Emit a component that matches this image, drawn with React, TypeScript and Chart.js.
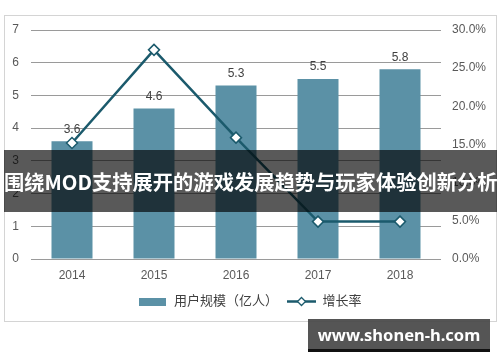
import React, { useEffect, useRef } from "react";
import { Chart, registerables } from "chart.js";

Chart.register(...registerables);

const years = ["2014", "2015", "2016", "2017", "2018"];
const users = [3.6, 4.6, 5.3, 5.5, 5.8];
const growth = [0.152, 0.274, 0.159, 0.049, 0.049];
const leftMax = 7;
const rightMax = 0.3;
const barLabel = "用户规模（亿人）";
const lineLabel = "增长率";
const title = "围绕MOD支持展开的游戏发展趋势与玩家体验创新分析";
const site = "www.shonen-h.com";

const BAR = "#5b91a6";
const LINE = "#1b5a6c";
const FONT = "'Liberation Sans', 'Noto Sans CJK SC', sans-serif";

function barIcon() {
  const c = document.createElement("canvas");
  c.width = 27;
  c.height = 8;
  const ctx = c.getContext("2d")!;
  ctx.fillStyle = BAR;
  ctx.fillRect(0, 0, 27, 8);
  return c;
}

function lineIcon() {
  const c = document.createElement("canvas");
  c.width = 29;
  c.height = 11;
  const ctx = c.getContext("2d")!;
  ctx.strokeStyle = LINE;
  ctx.lineWidth = 2.5;
  ctx.beginPath();
  ctx.moveTo(0, 5.5);
  ctx.lineTo(29, 5.5);
  ctx.stroke();
  ctx.beginPath();
  ctx.moveTo(14.5, 1.5);
  ctx.lineTo(18.5, 5.5);
  ctx.lineTo(14.5, 9.5);
  ctx.lineTo(10.5, 5.5);
  ctx.closePath();
  ctx.fillStyle = "#fff";
  ctx.fill();
  ctx.lineWidth = 1.3;
  ctx.stroke();
  return c;
}

const framePlugin = {
  id: "frame",
  beforeDraw(chart: any) {
    const ctx = chart.ctx;
    ctx.save();
    ctx.fillStyle = "#fff";
    ctx.fillRect(0, 0, chart.width, chart.height);
    ctx.strokeStyle = "#d4d4d4";
    ctx.lineWidth = 1;
    ctx.strokeRect(4.5, 15.5, 492, 306);
    ctx.restore();
  },
};

const labelPlugin = {
  id: "barLabels",
  afterDatasetsDraw(chart: any) {
    const meta = chart.getDatasetMeta(1);
    const ctx = chart.ctx;
    ctx.save();
    ctx.font = "12px " + FONT;
    ctx.fillStyle = "#404040";
    ctx.textAlign = "center";
    ctx.textBaseline = "middle";
    meta.data.forEach((el: any, i: number) => {
      ctx.fillText(users[i].toFixed(1), el.x, el.y - 12);
    });
    ctx.restore();
  },
};

export default function App() {
  const ref = useRef<HTMLCanvasElement>(null);

  useEffect(() => {
    const bIcon = barIcon();
    const lIcon = lineIcon();
    const chart = new Chart(ref.current!, {
      type: "bar",
      data: {
        labels: years,
        datasets: [
          {
            type: "line",
            label: lineLabel,
            data: growth,
            yAxisID: "y1",
            borderColor: LINE,
            borderWidth: 2.5,
            pointStyle: "rectRot",
            pointRadius: 5.5,
            pointBorderWidth: 1.5,
            pointBackgroundColor: "#fff",
            pointBorderColor: LINE,
            tension: 0,
            order: 0,
          } as any,
          {
            type: "bar",
            label: barLabel,
            data: users,
            yAxisID: "y",
            backgroundColor: BAR,
            categoryPercentage: 1,
            barPercentage: 0.5,
            order: 1,
          },
        ],
      },
      options: {
        responsive: false,
        animation: false,
        layout: { padding: { left: 0, right: 0, top: 30, bottom: 44 } },
        plugins: {
          tooltip: { enabled: false },
          legend: {
            position: "bottom",
            labels: {
              usePointStyle: true,
              pointStyleWidth: 29,
              padding: 9,
              color: "#404040",
              font: { size: 13, family: FONT },
              generateLabels: () => [
                {
                  text: barLabel,
                  pointStyle: bIcon as any,
                  fillStyle: BAR,
                  strokeStyle: "transparent",
                  lineWidth: 0,
                  hidden: false,
                  datasetIndex: 1,
                  fontColor: "#404040",
                },
                {
                  text: lineLabel,
                  pointStyle: lIcon as any,
                  fillStyle: "#fff",
                  strokeStyle: "transparent",
                  lineWidth: 0,
                  hidden: false,
                  datasetIndex: 0,
                  fontColor: "#404040",
                },
              ],
            },
          },
        },
        scales: {
          x: {
            grid: { display: false, drawTicks: false },
            border: { display: false },
            ticks: { color: "#595959", font: { size: 12, family: FONT }, padding: 9 },
            afterFit: (s: any) => {
              s.height = 27;
            },
          },
          y: {
            position: "left",
            min: 0,
            max: leftMax,
            grid: { color: "#9a9a9a", drawTicks: false },
            border: { display: false },
            ticks: {
              stepSize: 1,
              padding: 12,
              color: "#595959",
              font: { size: 12, family: FONT },
            },
            afterFit: (s: any) => {
              s.width = 31;
            },
          },
          y1: {
            position: "right",
            min: 0,
            max: rightMax,
            grid: { display: false, drawTicks: false },
            border: { display: false },
            ticks: {
              stepSize: 0.05,
              padding: 11,
              color: "#595959",
              font: { size: 12, family: FONT },
              callback: (v: any) => (Number(v) * 100).toFixed(1) + "%",
            },
            afterFit: (s: any) => {
              s.width = 59;
            },
          },
        },
      },
      plugins: [framePlugin, labelPlugin],
    });
    return () => chart.destroy();
  }, []);

  return (
    <div style={{ position: "fixed", left: 0, top: 0, width: 500, height: 362, background: "#fff" }}>
      <canvas ref={ref} width={500} height={362} style={{ display: "block" }} />
      <div
        style={{
          position: "absolute",
          left: 4,
          top: 150,
          width: 493,
          height: 62,
          background: "rgba(0,0,0,0.65)",
          color: "#fff",
          fontFamily: "'Noto Sans CJK SC', sans-serif",
          fontWeight: 700,
          fontSize: 20.3,
          lineHeight: "62px",
          textAlign: "center",
          whiteSpace: "nowrap",
          overflow: "hidden",
        }}
      >
        {title}
      </div>
      <div
        style={{
          position: "absolute",
          left: 308,
          top: 319,
          width: 182,
          height: 30,
          background: "rgba(70,70,70,0.92)",
          borderBottom: "3px solid #111",
          color: "#fff",
          fontFamily: "'Noto Sans', sans-serif",
          fontWeight: 700,
          fontSize: 16.5,
          lineHeight: "31px",
          textAlign: "center",
          whiteSpace: "nowrap",
        }}
      >
        {site}
      </div>
    </div>
  );
}
